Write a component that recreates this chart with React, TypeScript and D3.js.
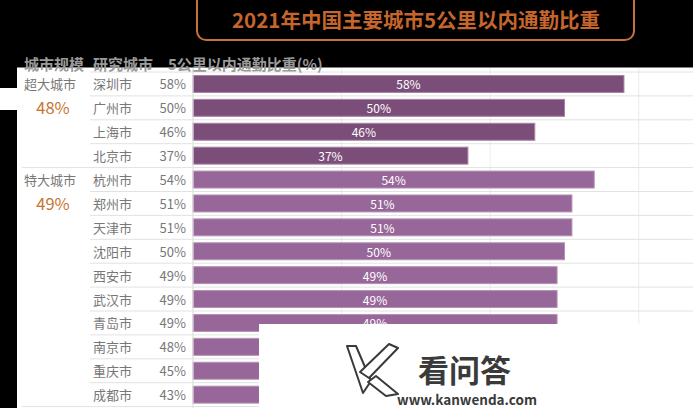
import React from "react";
import * as d3 from "d3";

const cities = ["深圳市", "广州市", "上海市", "北京市", "杭州市", "郑州市", "天津市", "沈阳市", "西安市", "武汉市", "青岛市", "南京市", "重庆市", "成都市"];
const values = [58, 50, 46, 37, 54, 51, 51, 50, 49, 49, 49, 48, 45, 43];
const cityGroup = [0, 0, 0, 0, 1, 1, 1, 1, 1, 1, 1, 1, 1, 1];
const groupNames = ["超大城市", "特大城市"];
const groupAvg = ["48%", "49%"];
const gridTicks = [0, 20, 40, 60, 80];
const title = "2021年中国主要城市5公里以内通勤比重";
const headers = ["城市规模", "研究城市", "5公里以内通勤比重(%)"];

const W = 693;
const H = 408;
const FONT = "'Noto Sans CJK SC', 'Noto Sans', sans-serif";
const barColors = ["#7b4e79", "#97679a"];
const barStroke = ["#a883a6", "#b592b5"];

export default function App() {
  const x = d3.scaleLinear().domain([0, 80]).range([193, 787.4]);
  const y = d3
    .scaleBand<string>()
    .domain(cities)
    .range([72, 72 + 14 * 23.9])
    .paddingInner(0.29)
    .paddingOuter(0.145);
  const step = y.step();
  const top = 72;
  const rowY = (i: number) => top + i * step;

  return (
    <svg width={W} height={H} style={{ position: "absolute", left: 0, top: 0, display: "block" }} fontFamily={FONT}>
      <rect x={0} y={0} width={W} height={H} fill="#000" />
      {/* white panel */}
      <rect x={17} y={67.5} width={W - 17} height={H - 67.5} fill="#fff" />
      <rect x={0} y={88} width={18} height={22} fill="#fff" />

      {/* title box */}
      <rect x={197} y={-12} width={437} height={52} rx={9} fill="none" stroke="#c8703a" strokeWidth={2} />
      <text x={416} y={19} textAnchor="middle" dominantBaseline="central" fontSize={20.5} fontWeight="bold" fill="#c6662c">
        {title}
      </text>

      {/* vertical grid */}
      {gridTicks.map((t) => (
        <line key={"g" + t} x1={x(t)} x2={x(t)} y1={68} y2={H} stroke="#ececec" strokeWidth={1} />
      ))}

      {/* row separators */}
      {cities.map((c, i) =>
        i === 0 ? null : (
          <line
            key={"s" + c}
            x1={cityGroup[i] !== cityGroup[i - 1] ? 22 : 90}
            x2={W}
            y1={rowY(i)}
            y2={rowY(i)}
            stroke="#e2e2e2"
            strokeWidth={1}
          />
        )
      )}
      <line x1={90} x2={W} y1={top} y2={top} stroke="#e2e2e2" />
      <line x1={22} x2={W} y1={rowY(14)} y2={rowY(14)} stroke="#e2e2e2" />

      {/* header */}
      <text x={24} y={63} dominantBaseline="central" fontSize={15} fontWeight="bold" fill="#9a9a9a">
        {headers[0]}
      </text>
      <text x={93} y={63} dominantBaseline="central" fontSize={15} fontWeight="bold" fill="#9a9a9a">
        {headers[1]}
      </text>
      <text x={168} y={63} dominantBaseline="central" fontSize={15} fontWeight="bold" fill="#9a9a9a">
        {headers[2]}
      </text>

      {/* groups */}
      {groupNames.map((g, gi) => {
        const first = cityGroup.indexOf(gi);
        const cy = (y(cities[first]) as number) + y.bandwidth() / 2;
        return (
          <g key={g}>
            <text x={24} y={cy} dominantBaseline="central" fontSize={13} fill="#777">
              {g}
            </text>
            <text x={53} y={cy + 23.5} textAnchor="middle" dominantBaseline="central" fontSize={16.5} fill="#c87533">
              {groupAvg[gi]}
            </text>
          </g>
        );
      })}

      {/* rows */}
      {cities.map((c, i) => {
        const by = y(c) as number;
        const cy = by + y.bandwidth() / 2;
        const g = cityGroup[i];
        return (
          <g key={c}>
            <text x={93} y={cy} dominantBaseline="central" fontSize={13} fill="#777">
              {c}
            </text>
            <text x={186} y={cy} textAnchor="end" dominantBaseline="central" fontSize={13} fill="#777">
              {values[i]}%
            </text>
            <rect
              x={x(0)}
              y={by}
              width={x(values[i]) - x(0)}
              height={y.bandwidth()}
              fill={barColors[g]}
              stroke={barStroke[g]}
              strokeWidth={1}
            />
            <text
              x={(x(0) + x(values[i])) / 2}
              y={cy}
              textAnchor="middle"
              dominantBaseline="central"
              fontSize={12}
              fill="#fff"
            >
              {values[i]}%
            </text>
          </g>
        );
      })}
      <line x1={193} x2={193} y1={68} y2={H} stroke="#e2e2e2" />

      {/* watermark */}
      <rect x={259} y={324} width={W - 259} height={H - 324} fill="#fff" />
      <g fill="#fff" stroke="#3a3a3a" strokeWidth={2} strokeLinejoin="round">
        <path d="M347,346 L356,346 L371,381 L363,393 Z" />
        <path d="M360,372 L389,344 L398,348 L369,378 Z" />
        <path d="M368,382 L376,376 L398,394 L386,396 Z" />
      </g>
      <text x={418} y={368} dominantBaseline="central" fontSize={31} fontWeight="bold" fill="#3a3a3a">
        看问答
      </text>
      <text x={397} y={399} dominantBaseline="central" fontSize={13.5} fontWeight="bold" fill="#3a3a3a">
        www.kanwenda.com
      </text>
    </svg>
  );
}
